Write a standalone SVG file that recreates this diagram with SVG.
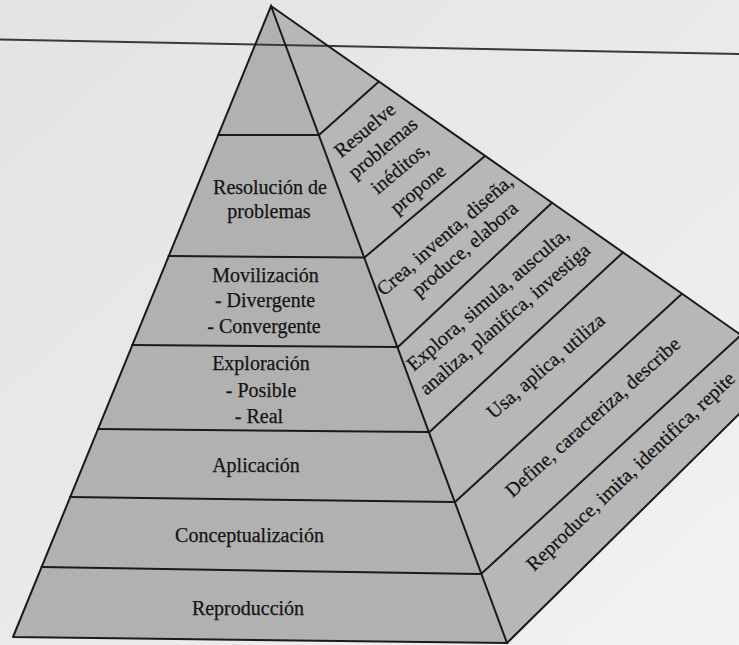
<svg xmlns="http://www.w3.org/2000/svg" width="739" height="645" viewBox="0 0 739 645">
  <defs>
    <linearGradient id="paper" x1="0" y1="0" x2="1" y2="1">
      <stop offset="0" stop-color="#e3e3e3"/>
      <stop offset="0.6" stop-color="#ebebeb"/>
      <stop offset="1" stop-color="#f3f3f3"/>
    </linearGradient>
  </defs>
  <style>
    .front { fill: #b1b1b1; }
    .side { fill: #b7b7b7; }
    .ln { stroke: #1a1a1a; stroke-width: 2; fill: none; stroke-linecap: round; }
    .rule { stroke: #3a3a3a; stroke-width: 2; fill: none; }
    text { font-family: "Liberation Serif", "Times New Roman", serif; font-size: 20px; fill: #141414; stroke: #141414; stroke-width: 0.25; text-anchor: middle; }
  </style>

  <rect x="0" y="0" width="739" height="645" fill="url(#paper)"/>

  <!-- front face bands -->
  <g id="front-top"><polygon class="front" points="271,6 218,135 319,135"/></g>
  <g id="resolucion">
    <polygon class="front" points="218,135 319,135 364.5,257.5 168.5,256"/>
    <text x="270" y="194">Resolución de</text>
    <text x="269" y="218">problemas</text>
  </g>
  <g id="movilizacion">
    <polygon class="front" points="168.5,256 364.5,257.5 398,347 132,345"/>
    <text x="265.5" y="282">Movilización</text>
    <text x="265" y="307">- Divergente</text>
    <text x="264" y="333">- Convergente</text>
  </g>
  <g id="exploracion">
    <polygon class="front" points="132,345 398,347 429.5,432 98,429"/>
    <text x="261" y="370">Exploración</text>
    <text x="261" y="397">- Posible</text>
    <text x="259" y="423">- Real</text>
  </g>
  <g id="aplicacion">
    <polygon class="front" points="98,429 429.5,432 455,502 70,497"/>
    <text x="256" y="472">Aplicación</text>
  </g>
  <g id="conceptualizacion">
    <polygon class="front" points="70,497 455,502 481,574 41.5,567"/>
    <text x="249.5" y="542">Conceptualización</text>
  </g>
  <g id="reproduccion">
    <polygon class="front" points="41.5,567 481,574 507,643 13,637"/>
    <text x="248" y="615">Reproducción</text>
  </g>

  <!-- side face bands -->
  <g id="side-top"><polygon class="side" points="271,6 379,81.6 319,135"/></g>
  <g id="resuelve">
    <polygon class="side" points="319,135 379,81.6 485,156 364.5,257.5"/>
    <text transform="translate(369,135) rotate(-40)">Resuelve</text>
    <text transform="translate(387,153) rotate(-40)">problemas</text>
    <text transform="translate(404,173) rotate(-40)">inéditos,</text>
    <text transform="translate(422,194) rotate(-40)">propone</text>
  </g>
  <g id="crea">
    <polygon class="side" points="364.5,257.5 485,156 552,202.7 398,347"/>
    <text transform="translate(449,240) rotate(-41)">Crea, inventa, diseña,</text>
    <text transform="translate(469,254) rotate(-41)">produce, elabora</text>
  </g>
  <g id="explora">
    <polygon class="side" points="398,347 552,202.7 623,252.4 429.5,432"/>
    <text transform="translate(492,304) rotate(-41)">Explora, simula, ausculta,</text>
    <text transform="translate(509,324) rotate(-41)">analiza, planifica, investiga</text>
  </g>
  <g id="usa">
    <polygon class="side" points="429.5,432 623,252.4 682,293.7 455,502"/>
    <text transform="translate(550,371) rotate(-41)">Usa, aplica, utiliza</text>
  </g>
  <g id="define">
    <polygon class="side" points="455,502 682,293.7 741,335 481,574"/>
    <text transform="translate(597,422) rotate(-42)">Define, caracteriza, describe</text>
  </g>
  <g id="reproduce">
    <polygon class="side" points="481,574 741,335 760,348 760,393.5 507,643"/>
    <text transform="translate(635,476) rotate(-43.5)">Reproduce, imita, identifica, repite</text>
  </g>

  <!-- background page rule -->
  <line class="rule" x1="0" y1="39.5" x2="739" y2="54"/>

  <!-- connectors / edges -->
  <g id="connectors">
    <polyline class="ln" points="13,637 271,6 507,643 13,637"/>
    <polyline class="ln" points="271,6 760,348.3"/>
    <line class="ln" x1="507" y1="643" x2="760" y2="393.5"/>
    <line class="ln" x1="218" y1="135" x2="319" y2="135"/>
    <line class="ln" x1="168.5" y1="256" x2="364.5" y2="257.5"/>
    <line class="ln" x1="132" y1="345" x2="398" y2="347"/>
    <line class="ln" x1="98" y1="429" x2="429.5" y2="432"/>
    <line class="ln" x1="70" y1="497" x2="455" y2="502"/>
    <line class="ln" x1="41.5" y1="567" x2="481" y2="574"/>
    <line class="ln" x1="319" y1="135" x2="379" y2="81.6"/>
    <line class="ln" x1="364.5" y1="257.5" x2="485" y2="156"/>
    <line class="ln" x1="398" y1="347" x2="552" y2="202.7"/>
    <line class="ln" x1="429.5" y1="432" x2="623" y2="252.4"/>
    <line class="ln" x1="455" y1="502" x2="682" y2="293.7"/>
    <line class="ln" x1="481" y1="574" x2="741" y2="335"/>
  </g>
</svg>
